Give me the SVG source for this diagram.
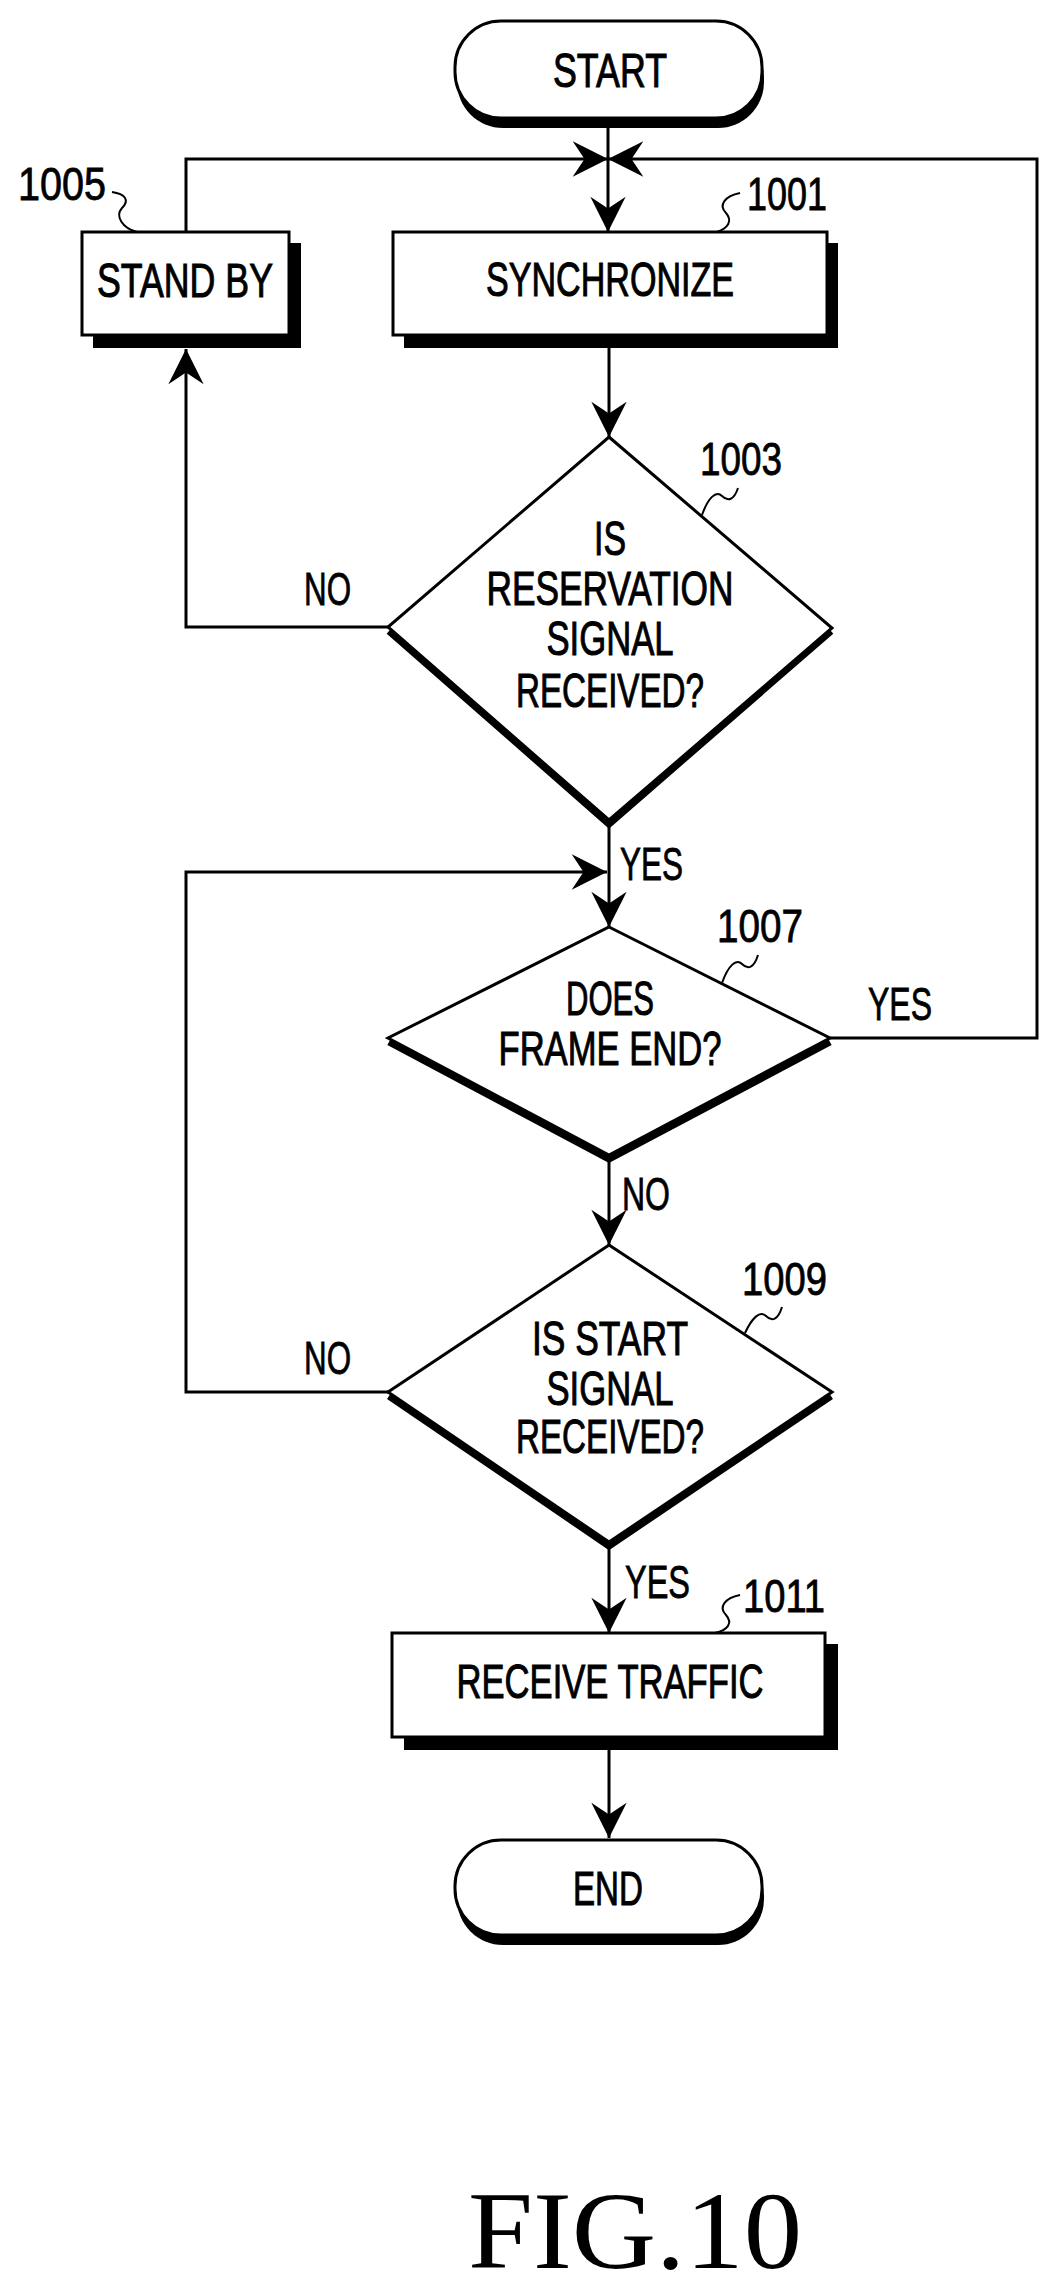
<svg xmlns="http://www.w3.org/2000/svg" width="1054" height="2291" viewBox="0 0 1054 2291">
<style>
.t{font-family:"Liberation Sans","DejaVu Sans",sans-serif;font-size:48px;fill:#000;stroke:#000;stroke-width:1;text-anchor:middle}
.n{font-family:"Liberation Sans","DejaVu Sans",sans-serif;font-size:46px;fill:#000;stroke:#000;stroke-width:0.8}
.box{fill:#fff;stroke:#000;stroke-width:3}
.sh{fill:#000}
.ln{fill:none;stroke:#000;stroke-width:3}
.lead{fill:none;stroke:#000;stroke-width:2}
.dsh{fill:none;stroke:#000;stroke-width:7;stroke-linejoin:miter}
</style>
<defs>
<marker id="ah" markerUnits="userSpaceOnUse" markerWidth="40" markerHeight="40" viewBox="-32 -16 34 32" refX="0" refY="0" orient="auto">
<path d="M0,0 L-30,-15 L-20,0 L-30,15 Z" fill="#000"/>
</marker>
</defs>
<rect width="1054" height="2291" fill="#fff"/>

<g id="connectors">
<path class="ln" d="M608,118 V232" marker-end="url(#ah)"/>
<path class="ln" d="M186,232 V159 H608" marker-end="url(#ah)"/>
<path class="ln" d="M830,1038 H1037 V159 H608" marker-end="url(#ah)"/>
<path class="ln" d="M609,348 V437" marker-end="url(#ah)"/>
<path class="ln" d="M388,627 H186 V349" marker-end="url(#ah)"/>
<path class="ln" d="M609,820 V927" marker-end="url(#ah)"/>
<path class="ln" d="M388,1392 H186 V872 H607" marker-end="url(#ah)"/>
<path class="ln" d="M609,1155 V1245" marker-end="url(#ah)"/>
<path class="ln" d="M609,1542 V1633" marker-end="url(#ah)"/>
<path class="ln" d="M609,1750 V1838" marker-end="url(#ah)"/>
<text class="n" x="304" y="605" textLength="47" lengthAdjust="spacingAndGlyphs">NO</text>
<text class="n" x="620" y="880" textLength="63" lengthAdjust="spacingAndGlyphs">YES</text>
<text class="n" x="868" y="1020" textLength="64" lengthAdjust="spacingAndGlyphs">YES</text>
<text class="n" x="622" y="1210" textLength="48" lengthAdjust="spacingAndGlyphs">NO</text>
<text class="n" x="304" y="1374" textLength="47" lengthAdjust="spacingAndGlyphs">NO</text>
<text class="n" x="625" y="1598" textLength="65" lengthAdjust="spacingAndGlyphs">YES</text>
</g>

<g id="start">
<rect x="457" y="31" width="307" height="97" rx="46" class="sh"/>
<rect x="455" y="21" width="307" height="97" rx="46" class="box"/>
<text class="t" x="610" y="87" textLength="114" lengthAdjust="spacingAndGlyphs">START</text>
</g>

<g id="n1001">
<rect x="404" y="243" width="434" height="105" class="sh"/>
<rect x="393" y="232" width="434" height="103" class="box"/>
<text class="t" x="610" y="296" textLength="248" lengthAdjust="spacingAndGlyphs">SYNCHRONIZE</text>
<path class="lead" d="M740,193 C725,196 718,205 726,213 C733,221 728,228 717,232"/>
<text class="n" x="747" y="210" textLength="80" lengthAdjust="spacingAndGlyphs">1001</text>
</g>

<g id="n1005">
<rect x="93" y="243" width="208" height="105" class="sh"/>
<rect x="82" y="232" width="207" height="103" class="box"/>
<text class="t" x="185" y="297" textLength="176" lengthAdjust="spacingAndGlyphs">STAND BY</text>
<path class="lead" d="M112,192 C125,194 130,200 122,208 C115,216 122,228 137,232"/>
<text class="n" x="18" y="200" textLength="88" lengthAdjust="spacingAndGlyphs">1005</text>
</g>

<g id="n1003">
<path class="dsh" d="M389,631 L609,824 L831,631"/>
<path class="box" d="M609,437 L832,628 L609,820 L388,627 Z"/>
<text class="t" x="610" y="555" textLength="32" lengthAdjust="spacingAndGlyphs">IS</text>
<text class="t" x="610" y="605" textLength="247" lengthAdjust="spacingAndGlyphs">RESERVATION</text>
<text class="t" x="610" y="655" textLength="127" lengthAdjust="spacingAndGlyphs">SIGNAL</text>
<text class="t" x="610" y="707" textLength="188" lengthAdjust="spacingAndGlyphs">RECEIVED?</text>
<path class="lead" d="M738,488 C734,500 728,502 722,496 C716,490 708,498 702,515"/>
<text class="n" x="700" y="475" textLength="82" lengthAdjust="spacingAndGlyphs">1003</text>
</g>

<g id="n1007">
<path class="dsh" d="M389,1042 L609,1159 L830,1042"/>
<path class="box" d="M609,927 L830,1038 L609,1155 L388,1038 Z"/>
<text class="t" x="610" y="1015" textLength="88" lengthAdjust="spacingAndGlyphs">DOES</text>
<text class="t" x="610" y="1065" textLength="223" lengthAdjust="spacingAndGlyphs">FRAME END?</text>
<path class="lead" d="M758,955 C754,968 748,970 742,964 C736,958 728,966 722,983"/>
<text class="n" x="717" y="942" textLength="86" lengthAdjust="spacingAndGlyphs">1007</text>
</g>

<g id="n1009">
<path class="dsh" d="M389,1396 L609,1546 L831,1396"/>
<path class="box" d="M609,1245 L832,1392 L609,1542 L388,1392 Z"/>
<text class="t" x="610" y="1355" textLength="156" lengthAdjust="spacingAndGlyphs">IS START</text>
<text class="t" x="610" y="1405" textLength="127" lengthAdjust="spacingAndGlyphs">SIGNAL</text>
<text class="t" x="610" y="1453" textLength="188" lengthAdjust="spacingAndGlyphs">RECEIVED?</text>
<path class="lead" d="M782,1307 C778,1320 772,1322 766,1316 C760,1310 752,1318 745,1333"/>
<text class="n" x="742" y="1295" textLength="85" lengthAdjust="spacingAndGlyphs">1009</text>
</g>

<g id="n1011">
<rect x="404" y="1644" width="434" height="106" class="sh"/>
<rect x="392" y="1633" width="433" height="104" class="box"/>
<text class="t" x="610" y="1698" textLength="307" lengthAdjust="spacingAndGlyphs">RECEIVE TRAFFIC</text>
<path class="lead" d="M740,1595 C725,1598 718,1607 726,1615 C733,1623 728,1630 715,1633"/>
<text class="n" x="743" y="1612" textLength="82" lengthAdjust="spacingAndGlyphs">1011</text>
</g>

<g id="end">
<rect x="457" y="1850" width="307" height="95" rx="46" class="sh"/>
<rect x="455" y="1840" width="307" height="95" rx="46" class="box"/>
<text class="t" x="608" y="1905" textLength="70" lengthAdjust="spacingAndGlyphs">END</text>
</g>

<text x="468" y="2268" font-family="Liberation Serif,serif" font-size="110" textLength="334" lengthAdjust="spacingAndGlyphs">FIG.10</text>
</svg>
